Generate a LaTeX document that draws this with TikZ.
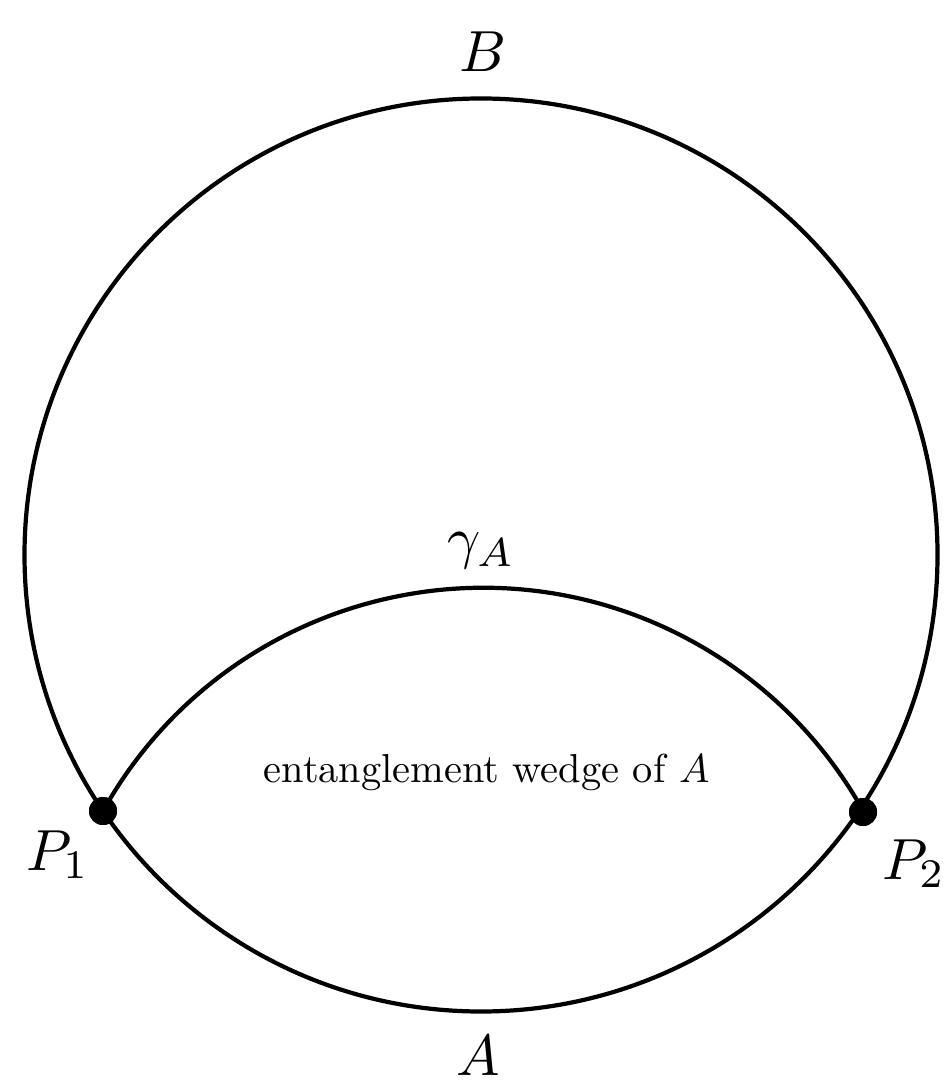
\documentclass[tikz,border=0pt]{standalone}
\begin{document}
\begin{tikzpicture}[
  curve/.style={line width=1.2pt},
  endpt/.style={circle, fill=black, inner sep=0pt, minimum size=0.28cm},
  lbl/.style={inner sep=0pt, scale=1.65},
  wedgetext/.style={inner sep=0pt, scale=1.15}
]
\useasboundingbox (0,0) rectangle (9.44,-10.81);
\coordinate (O) at (4.81,-5.55);
\draw[curve] (O) circle[radius=4.565];
\node[endpt] (P1) at (1.03,-8.11) {};
\node[endpt] (P2) at (8.63,-8.12) {};
\draw[curve] (P1.center) arc[start angle=150.84, end angle=29.05, radius=4.353];
\node[endpt] at (P1) {};
\node[endpt] at (P2) {};
\node[lbl, anchor=base] (B) at (4.83,-0.72) {$B$};
\node[lbl, anchor=base] (A) at (4.78,-10.75) {$A$};
\node[lbl, anchor=base] (gA) at (4.81,-5.58) {$\gamma_A$};
\node[lbl, anchor=base west] (L1) at (0.25,-8.70) {$P_1$};
\node[lbl, anchor=base west] (L2) at (8.81,-8.79) {$P_2$};
\node[wedgetext, anchor=base] (W) at (4.865,-7.82) {entanglement wedge of $A$};
\end{tikzpicture}
\end{document}
